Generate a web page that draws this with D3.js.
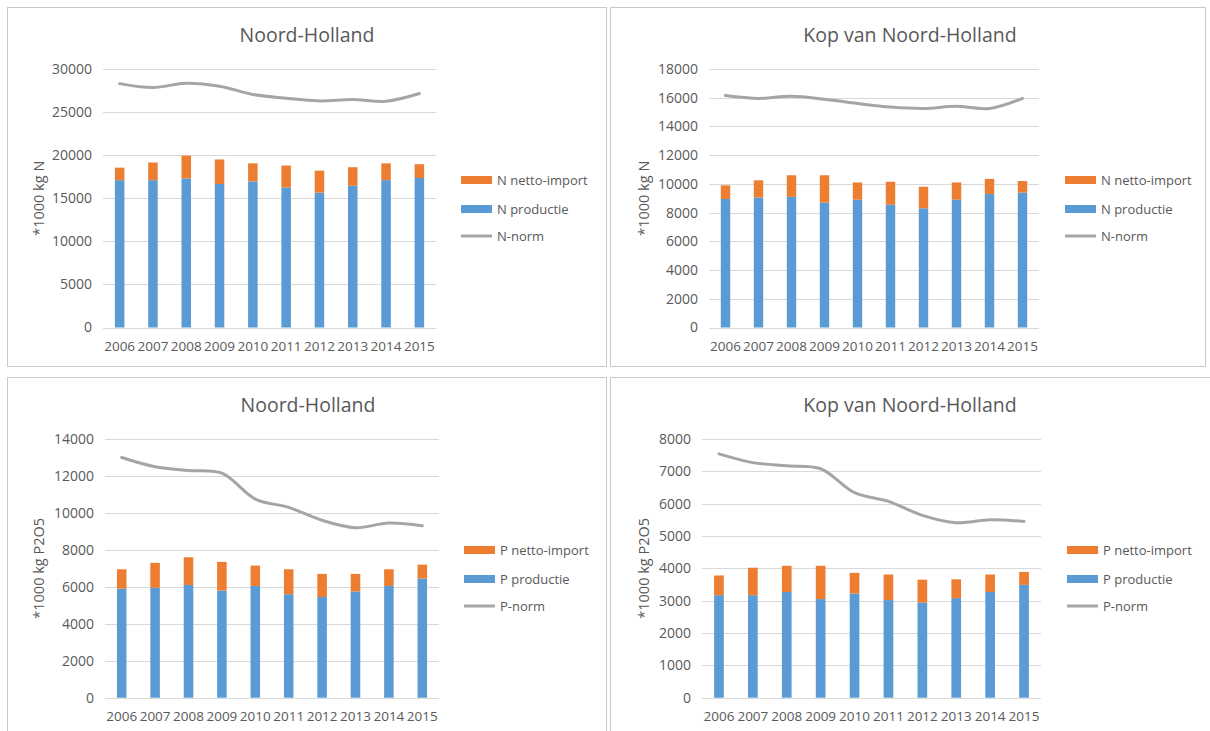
<!DOCTYPE html>
<html>
<head>
<meta charset="utf-8">
<script src="https://cdn.jsdelivr.net/npm/d3@7"></script>
<style>
  body { margin: 0; background: #fff; }
  svg { display: block; font-family: "Open Sans", sans-serif; }
</style>
</head>
<body>
<svg id="chart" width="1210" height="731"></svg>
<script>
let years = ['2006','2007','2008','2009','2010','2011','2012','2013','2014','2015'];

// N, Noord-Holland
let nhNProd   = [17100, 17100, 17300, 16650, 16950, 16250, 15650, 16450, 17100, 17350];
let nhNImport = [1450, 2050, 2650, 2850, 2100, 2550, 2550, 2150, 1950, 1600];
let nhNNorm   = [28300, 27850, 28350, 28000, 27050, 26600, 26300, 26450, 26250, 27150];

// N, Kop van Noord-Holland
let kopNProd   = [8950, 9050, 9100, 8700, 8900, 8550, 8300, 8900, 9300, 9400];
let kopNImport = [950, 1200, 1500, 1900, 1200, 1600, 1500, 1200, 1050, 800];
let kopNNorm   = [16150, 15950, 16100, 15900, 15600, 15350, 15250, 15400, 15250, 15950];

// P, Noord-Holland
let nhPProd   = [5900, 5950, 6100, 5800, 6050, 5600, 5450, 5750, 6050, 6450];
let nhPImport = [1050, 1350, 1500, 1550, 1100, 1350, 1250, 950, 900, 750];
let nhPNorm   = [13000, 12500, 12300, 12150, 10750, 10300, 9600, 9200, 9450, 9300];

// P, Kop van Noord-Holland
let kopPProd   = [3170, 3170, 3270, 3050, 3220, 3020, 2940, 3080, 3270, 3490];
let kopPImport = [610, 850, 810, 1030, 640, 790, 710, 580, 540, 400];
let kopPNorm   = [7540, 7270, 7170, 7080, 6340, 6070, 5640, 5410, 5500, 5450];

let blue = '#5b9bd5';
let orange = '#ed7d31';
let grey = '#a5a5a5';
let textColor = '#595959';

let panels = [
    {title: 'Noord-Holland', yLabel: '*1000 kg N', el: 'N', yMax: 30000, yStep: 5000,
     prod: nhNProd, imp: nhNImport, norm: nhNNorm,
     box: [7, 7, 599, 359], plot: [103, 436, 69, 327.5], titleX: 307, labelX: 38, legendX: 461},
    {title: 'Kop van Noord-Holland', yLabel: '*1000 kg N', el: 'N', yMax: 18000, yStep: 2000,
     prod: kopNProd, imp: kopNImport, norm: kopNNorm,
     box: [610, 7, 595, 359], plot: [709, 1039, 69, 327.5], titleX: 910, labelX: 643, legendX: 1065},
    {title: 'Noord-Holland', yLabel: '*1000 kg P2O5', el: 'P', yMax: 14000, yStep: 2000,
     prod: nhPProd, imp: nhPImport, norm: nhPNorm,
     box: [7, 377, 599, 370], plot: [105, 439, 439, 697.7], titleX: 308, labelX: 38, legendX: 464},
    {title: 'Kop van Noord-Holland', yLabel: '*1000 kg P2O5', el: 'P', yMax: 8000, yStep: 1000,
     prod: kopPProd, imp: kopPImport, norm: kopPNorm,
     box: [610, 377, 610, 370], plot: [702, 1041, 439, 697.7], titleX: 910, labelX: 643, legendX: 1067}
];

let svg = d3.select('#chart');

let drawPanel = (p) => {
    let g = svg.append('g');
    let [x0, x1, yTop, yBot] = p.plot;

    g.append('rect')
        .attr('x', p.box[0] + 0.5).attr('y', p.box[1] + 0.5)
        .attr('width', p.box[2]).attr('height', p.box[3])
        .attr('fill', '#fff')
        .attr('stroke', '#c9c9c9')
        .attr('stroke-width', 1);

    let x = d3.scaleBand()
        .domain(years)
        .range([x0, x1])
        .paddingInner(0.714)
        .paddingOuter(0.357);

    let y = d3.scaleLinear()
        .domain([0, p.yMax])
        .range([yBot, yTop]);

    let ticks = d3.range(0, p.yMax + 1, p.yStep);

    // gridlines
    g.append('g')
        .selectAll('line')
        .data(ticks)
        .join('line')
        .attr('x1', x0).attr('x2', x1)
        .attr('y1', d => Math.round(y(d)) + 0.5)
        .attr('y2', d => Math.round(y(d)) + 0.5)
        .attr('stroke', '#d9d9d9')
        .attr('stroke-width', 1);

    // y tick labels
    let yAxis = g.append('g')
        .attr('transform', `translate(${x0 - 11},0)`)
        .call(d3.axisLeft(y).tickValues(ticks).tickSize(0).tickPadding(0).tickFormat(d3.format('d')));
    yAxis.select('.domain').remove();
    yAxis.selectAll('text')
        .attr('fill', textColor)
        .attr('font-size', '14px')
        .attr('font-family', '"Open Sans", sans-serif');

    // x tick labels
    let xAxis = g.append('g')
        .attr('transform', `translate(0,${yBot + 8})`)
        .call(d3.axisBottom(x).tickSize(0).tickPadding(6));
    xAxis.select('.domain').remove();
    xAxis.selectAll('text')
        .attr('fill', textColor)
        .attr('font-size', '13.5px')
        .attr('font-family', '"Open Sans", sans-serif');

    // stacked bars
    let rows = years.map((yr, i) => ({year: yr, prod: p.prod[i], imp: p.imp[i], norm: p.norm[i]}));
    let stack = d3.stack().keys(['prod', 'imp'])(rows);
    let colors = {prod: blue, imp: orange};

    g.append('g')
        .selectAll('g')
        .data(stack)
        .join('g')
        .attr('fill', s => colors[s.key])
        .selectAll('rect')
        .data(s => s)
        .join('rect')
        .attr('x', d => x(d.data.year))
        .attr('width', x.bandwidth())
        .attr('y', d => y(d[1]))
        .attr('height', d => y(d[0]) - y(d[1]));

    // norm line
    let line = d3.line()
        .x(d => x(d.year) + x.bandwidth() / 2)
        .y(d => y(d.norm))
        .curve(d3.curveCatmullRom.alpha(0.5));

    g.append('path')
        .datum(rows)
        .attr('d', line)
        .attr('fill', 'none')
        .attr('stroke', grey)
        .attr('stroke-width', 3)
        .attr('stroke-linecap', 'round');

    // title
    g.append('text')
        .attr('x', p.titleX)
        .attr('y', yTop - 27)
        .attr('text-anchor', 'middle')
        .attr('fill', textColor)
        .attr('font-size', '19.5px')
        .text(p.title);

    // y axis label
    g.append('text')
        .attr('transform', `translate(${p.labelX},${(yTop + yBot) / 2}) rotate(-90)`)
        .attr('text-anchor', 'middle')
        .attr('dominant-baseline', 'central')
        .attr('fill', textColor)
        .attr('font-size', '14.5px')
        .text(p.yLabel);

    // legend
    let legend = [
        {name: p.el + ' netto-import', type: 'bar', color: orange},
        {name: p.el + ' productie', type: 'bar', color: blue},
        {name: p.el + '-norm', type: 'line', color: grey}
    ];
    let lg = g.append('g')
        .selectAll('g')
        .data(legend)
        .join('g')
        .attr('transform', (d, i) => `translate(${p.legendX},${yTop + [111, 140, 167][i]})`);

    lg.filter(d => d.type === 'bar')
        .append('rect')
        .attr('x', 0).attr('y', -4)
        .attr('width', 31).attr('height', 8)
        .attr('fill', d => d.color);

    lg.filter(d => d.type === 'line')
        .append('line')
        .attr('x1', 0).attr('x2', 31)
        .attr('y1', 0).attr('y2', 0)
        .attr('stroke', d => d.color)
        .attr('stroke-width', 3);

    lg.append('text')
        .attr('x', 36)
        .attr('y', 0)
        .attr('dominant-baseline', 'central')
        .attr('fill', textColor)
        .attr('font-size', '13px')
        .text(d => d.name);
};

panels.forEach(drawPanel);
</script>
</body>
</html>
